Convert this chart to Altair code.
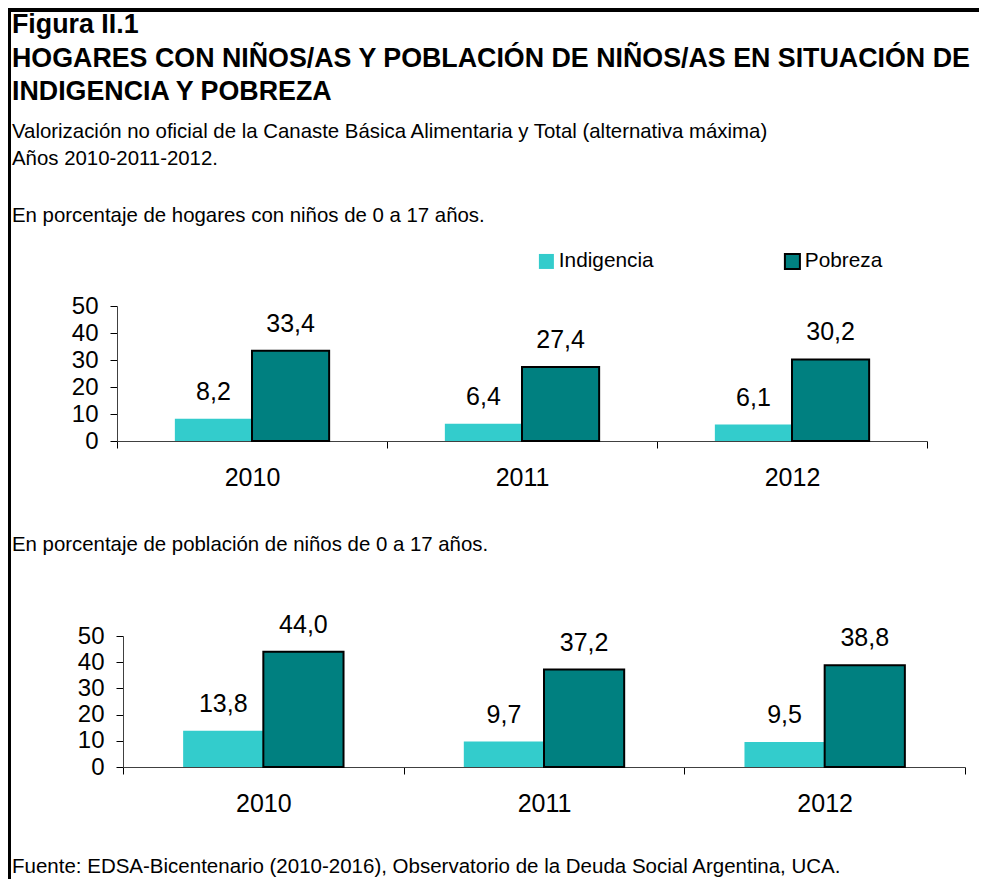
import altair as alt
import pandas as pd

# ---------------- data ----------------
years = ["2010", "2011", "2012"]
series = ["Indigencia", "Pobreza"]
hogares_indigencia = [8.2, 6.4, 6.1]
hogares_pobreza = [33.4, 27.4, 30.2]
ninos_indigencia = [13.8, 9.7, 9.5]
ninos_pobreza = [44.0, 37.2, 38.8]
y_ticks = [0, 10, 20, 30, 40, 50]

title_lines = [
    "Figura II.1",
    "HOGARES CON NIÑOS/AS Y POBLACIÓN DE NIÑOS/AS EN SITUACIÓN DE",
    "INDIGENCIA Y POBREZA",
]
subtitle_lines = [
    "Valorización no oficial de la Canaste Básica Alimentaria y Total (alternativa máxima)",
    "Años 2010-2011-2012.",
]
panel_titles = [
    "En porcentaje de hogares con niños de 0 a 17 años.",
    "En porcentaje de población de niños de 0 a 17 años.",
]
source_text = "Fuente: EDSA-Bicentenario (2010-2016), Observatorio de la Deuda Social Argentina, UCA."

fill_colors = ["#33CCCC", "#008080"]
stroke_colors = ["transparent", "#000000"]

FONT = "Liberation Sans, Arial, Helvetica, sans-serif"
W, H = 971, 871


def frame(ind, pob):
    rows = []
    for i, yr in enumerate(years):
        rows.append({"year": yr, "series": series[0], "value": ind[i]})
        rows.append({"year": yr, "series": series[1], "value": pob[i]})
    return pd.DataFrame(rows)


legend_spec = alt.Legend(
    orient="none", legendX=528, legendY=243, direction="horizontal", title=None,
    symbolType="square", symbolSize=225, symbolStrokeWidth=2, labelFontSize=20.8,
    labelFont=FONT, labelColor="black", labelOffset=2, columnPadding=126,
)


def panel(df, x_range, y_range):
    base = alt.Chart(df).encode(
        x=alt.X(
            "year:N", sort=years,
            scale=alt.Scale(range=x_range, paddingInner=0, paddingOuter=0),
            axis=alt.Axis(
                orient="bottom", offset=y_range[0] - H, title=None, labelAngle=0,
                tickBand="extent", tickSize=7, tickColor="black", domainColor="#404040",
                labelFontSize=25, labelFont=FONT, labelColor="black", labelPadding=17,
            ),
        ),
        xOffset=alt.XOffset("series:N", sort=series,
                            scale=alt.Scale(paddingOuter=0.75, paddingInner=0)),
        y=alt.Y(
            "value:Q",
            scale=alt.Scale(domain=[0, 50], range=y_range, nice=False, zero=True),
            axis=alt.Axis(
                orient="left", offset=-x_range[0], title=None, values=y_ticks, grid=False,
                tickSize=7, tickColor="black", domainColor="#404040",
                labelFontSize=24, labelFont=FONT, labelColor="black", labelPadding=12,
            ),
        ),
    )
    bars = base.mark_bar(strokeWidth=2).encode(
        fill=alt.Fill("series:N", sort=series,
                      scale=alt.Scale(domain=series, range=fill_colors), legend=legend_spec),
        stroke=alt.Stroke("series:N", sort=series,
                          scale=alt.Scale(domain=series, range=stroke_colors), legend=legend_spec),
    )
    labels = base.transform_calculate(
        label="replace(format(datum.value, '.1f'), '.', ',')"
    ).mark_text(
        align="center", baseline="alphabetic", dy=-19, fontSize=25, font=FONT, color="black"
    ).encode(text="label:N")
    return alt.layer(bars, labels)


def text_line(txt, x, y, size, bold=False):
    return alt.Chart(pd.DataFrame({"t": [txt]})).mark_text(
        align="left", baseline="alphabetic", fontSize=size, font=FONT,
        fontWeight="bold" if bold else "normal", color="black",
    ).encode(x=alt.value(x), y=alt.value(y), text="t:N")


border_top = alt.Chart(pd.DataFrame({"a": [0]})).mark_rule(color="black", strokeWidth=4).encode(
    x=alt.value(0), x2=alt.value(W), y=alt.value(2)
)
border_left = alt.Chart(pd.DataFrame({"a": [0]})).mark_rule(color="black", strokeWidth=3).encode(
    x=alt.value(1.5), y=alt.value(0), y2=alt.value(H)
)

texts = [
    text_line(title_lines[0], 4, 25, 26.8, True),
    text_line(title_lines[1], 4, 58.5, 26.8, True),
    text_line(title_lines[2], 4, 92, 26.8, True),
    text_line(subtitle_lines[0], 4, 130, 20.4),
    text_line(subtitle_lines[1], 4, 157, 20.4),
    text_line(panel_titles[0], 4, 214, 20.4),
    text_line(panel_titles[1], 4, 543, 20.4),
    text_line(source_text, 4, 865, 20.5),
]

p1 = panel(frame(hogares_indigencia, hogares_pobreza), [109, 919], [433, 298])
p2 = panel(frame(ninos_indigencia, ninos_pobreza), [115, 957], [759, 628])

chart = alt.layer(border_top, border_left, *texts, p1, p2).resolve_scale(
    x="independent", y="independent", xOffset="independent"
).properties(
    width=W, height=H, padding=0, autosize=alt.AutoSizeParams(type="none")
).configure_view(stroke=None)

chart.save("out.html", embed_options={"renderer": "svg", "actions": False})
